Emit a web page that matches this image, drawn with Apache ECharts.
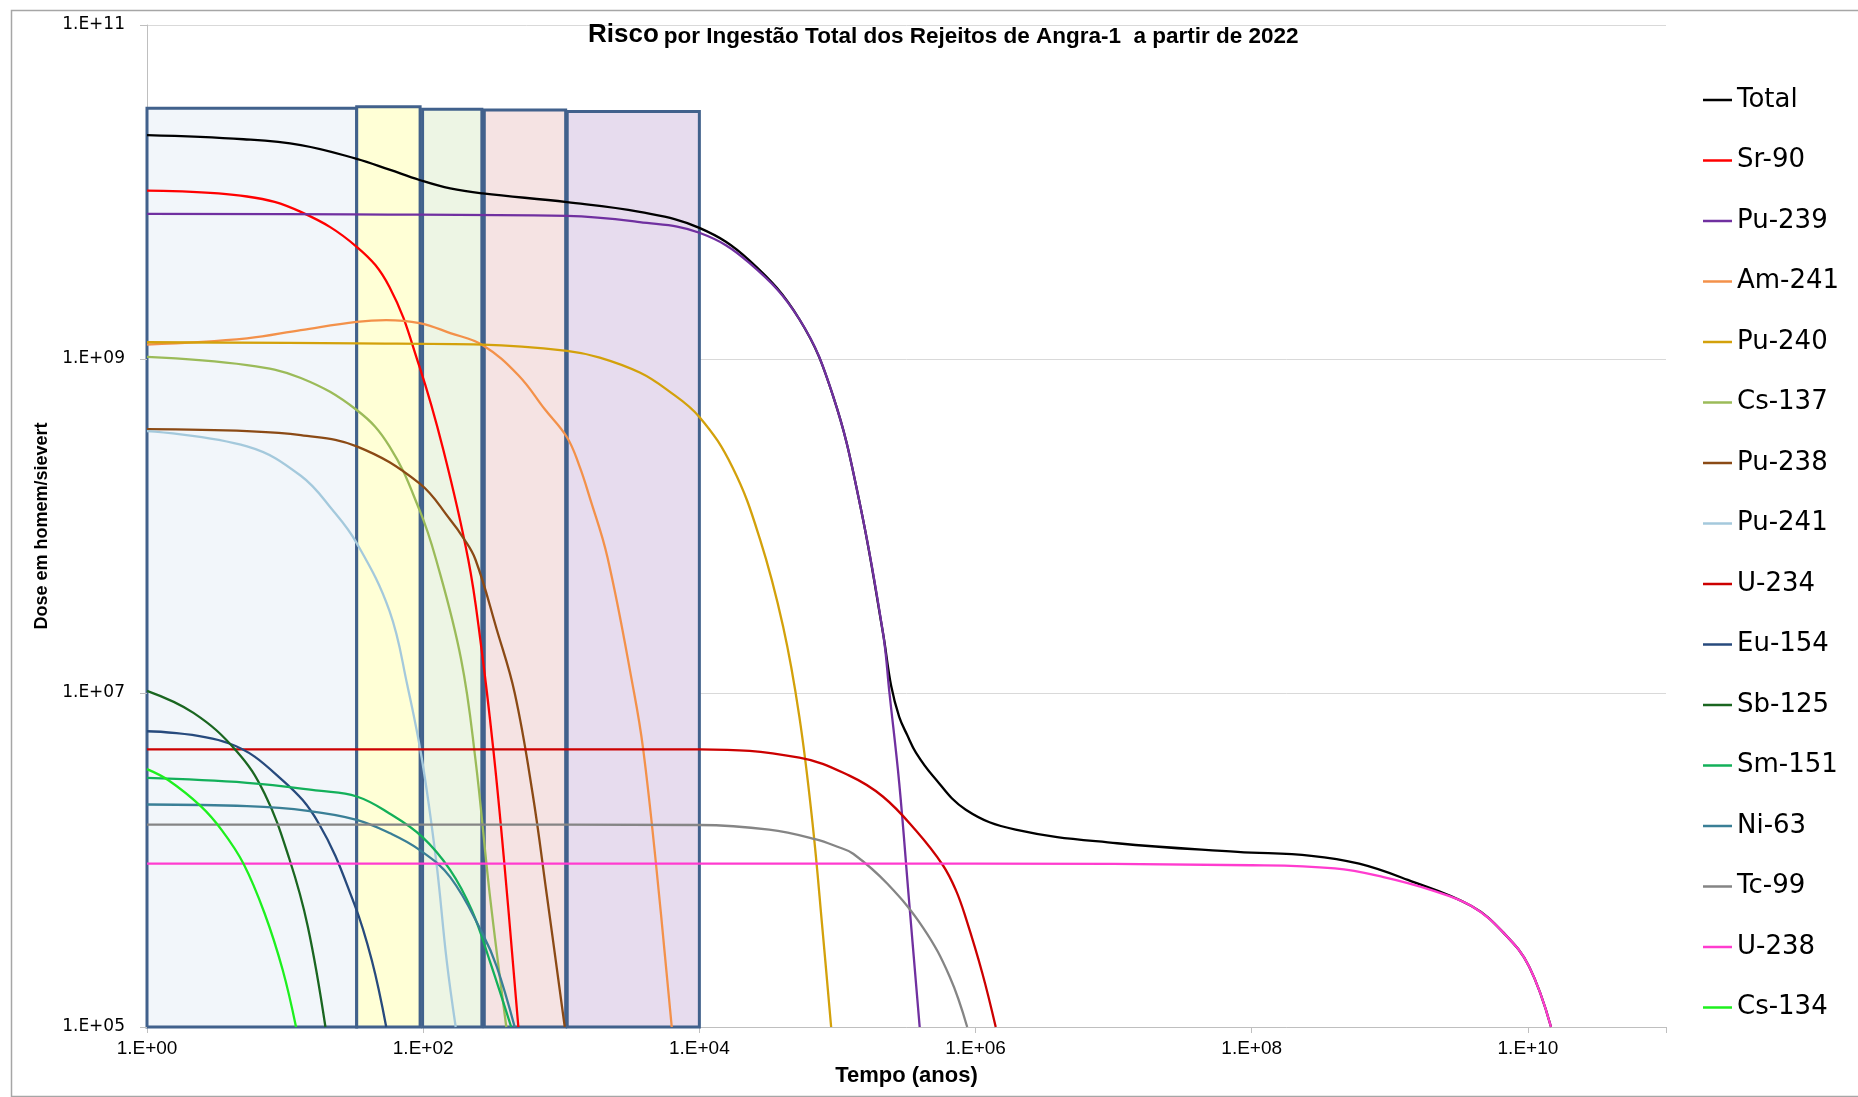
<!DOCTYPE html>
<html><head><meta charset="utf-8">
<script src="https://cdn.jsdelivr.net/npm/echarts@6/dist/echarts.min.js"></script>
<style>html,body{margin:0;padding:0;background:#fff}#c{width:1858px;height:1097px}</style>
</head><body><div id="c"></div><script>
// ---- data: [tempo (anos), dose (homem.Sv)] ----
const total = [[1,2.19e10],[5,2.07e10],[13,1.91e10],[33,1.58e10],[57,1.36e10],[94,1.18e10],[157,1.05e10],[270,9.8e9],[1100,8.7e9],[3700,7.6e9],[1e4,6.1e9],[2.3e4,3.9e9],[5.3e4,1.73e9],[9.3e4,6.0e8],[1.45e5,1.37e8],[2.14e5,2.27e7],[2.45e5,1.1e7],[2.8e5,7.2e6],[3.2e5,5.6e6],[3.7e5,4.4e6],[4.9e5,3.2e6],[8.5e5,2.0e6],[1.95e6,1.52e6],[1.06e7,1.26e6],[7.9e7,1.12e6],[2.7e8,1.06e6],[6e8,9.5e5],[1.35e9,7.6e5],[3.9e9,5.3e5],[6.8e9,3.6e5],[1.02e10,2.3e5],[1.47e10,1e5]];
const sr90 = [[1,1.02e10],[5.3,9.4e9],[13,7.6e9],[33,4.7e9],[57,2.7e9],[94,9e8],[140,2.85e8],[212,6.3e7],[261,2.0e7],[322,4.6e6],[385,1e6],[489,1e5]];
const pu239 = [[1,7.4e9],[30,7.35e9],[1100,7.2e9],[3700,6.6e9],[1e4,5.7e9],[2.3e4,3.76e9],[5.3e4,1.73e9],[9.3e4,6.0e8],[1.45e5,1.37e8],[2.14e5,2.27e7],[2.38e5,1e7],[2.8e5,2.9e6],[3.3e5,5.7e5],[3.94e5,1e5]];
const am241 = [[1,1.22e9],[5.3,1.33e9],[13,1.49e9],[33,1.67e9],[54,1.71e9],[94,1.64e9],[157,1.43e9],[270,1.21e9],[489,8.0e8],[760,5.0e8],[1100,3.4e8],[1350,2.3e8],[1600,1.5e8],[2160,6.5e7],[3370,1e7],[3920,4.6e6],[4820,1e6],[6310,1e5]];
const pu240 = [[1,1.26e9],[33,1.24e9],[270,1.22e9],[1100,1.12e9],[1900,1.02e9],[3700,8.3e8],[5750,6.6e8],[1e4,4.5e8],[1.74e4,2.24e8],[2.74e4,8.4e7],[4.04e4,2.5e7],[5.3e4,7.2e6],[6.6e4,1.66e6],[7.8e4,3.8e5],[9.0e4,1e5]];
const cs137 = [[1,1.03e9],[5.3,9.2e8],[13,7.7e8],[33,4.95e8],[57,3.0e8],[94,1.25e8],[124,6.3e7],[188,1.6e7],[239,4e6],[303,6.3e5],[400,1e5]];
const pu238 = [[1,3.8e8],[5.3,3.7e8],[13,3.5e8],[33,3.0e8],[94,1.8e8],[157,1.09e8],[195,8.5e7],[239,6.3e7],[341,2.4e7],[460,1e7],[620,2.5e6],[783,6.3e5],[1060,1e5]];
const pu241 = [[1,3.7e8],[5.3,3.0e8],[13,2.0e8],[22,1.25e8],[33,7.9e7],[57,3.1e7],[77,1.1e7],[98,4e6],[124,1e6],[148,2.5e5],[172,1e5]];
const u234 = [[1,4.6e6],[100,4.6e6],[1e4,4.6e6],[5.3e4,4.1e6],[1.22e5,3.2e6],[2.13e5,2.4e6],[3.7e5,1.5e6],[5.8e5,9.3e5],[7.2e5,6.6e5],[8.5e5,4.5e5],[1.12e6,2.1e5],[1.4e6,1e5]];
const eu154 = [[1,5.9e6],[3.9,5.0e6],[9.6,3.0e6],[17.5,1.66e6],[31.6,5.5e5],[42.5,2.5e5],[54,1e5]];
const sb125 = [[1,1.03e7],[2.17,7.6e6],[4.44,4.5e6],[7.1,2.5e6],[10.8,1e6],[14.6,4e5],[19.6,1e5]];
const sm151 = [[1,3.1e6],[5.3,2.9e6],[17.5,2.6e6],[33,2.4e6],[57,1.9e6],[98,1.38e6],[157,8.7e5],[225,5e5],[303,2.5e5],[434,1e5]];
const ni63 = [[1,2.15e6],[5.3,2.1e6],[14.6,1.97e6],[33,1.74e6],[57,1.45e6],[94,1.15e6],[157,7.9e5],[270,3.6e5],[341,2.3e5],[460,1e5]];
const tc99 = [[1,1.63e6],[100,1.63e6],[1e4,1.62e6],[3.2e4,1.52e6],[7e4,1.33e6],[1e5,1.2e6],[1.3e5,1.09e6],[2.3e5,7.2e5],[4.2e5,3.9e5],[6.5e5,2.0e5],[8.7e5,1e5]];
const u238 = [[1,9.5e5],[1e3,9.5e5],[1e6,9.5e5],[1e8,9.3e5],[4.0e8,8.9e5],[9.0e8,7.9e5],[2.0e9,6.6e5],[3.9e9,5.3e5],[6.8e9,3.6e5],[1.02e10,2.3e5],[1.47e10,1e5]];
const cs134 = [[1,3.5e6],[1.43,3.0e6],[2.45,2.1e6],[3.5,1.5e6],[5.0,9.5e5],[7.1,4.8e5],[9.6,2.2e5],[12,1e5]];

const seriesNames = ['Total','Sr-90','Pu-239','Am-241','Pu-240','Cs-137','Pu-238','Pu-241','U-234','Eu-154','Sb-125','Sm-151','Ni-63','Tc-99','U-238','Cs-134'];
const seriesData = [total,sr90,pu239,am241,pu240,cs137,pu238,pu241,u234,eu154,sb125,sm151,ni63,tc99,u238,cs134];
const seriesColors = ['#000000','#ff0000','#7030a0','#f3914a','#d3a10b','#9bbb59','#8b4a15','#a4c9dc','#cc0000','#274a7d','#1a6620','#13b05a','#3a7f96','#858585','#ff3ccf','#1ef01e'];

// shaded period boxes: start, end (anos), top (dose)
const boxStart = [1, 33, 99, 277, 1104];
const boxEnd = [33, 95, 266, 1076, 1e4];
const boxTop = [3.17e10, 3.24e10, 3.13e10, 3.1e10, 3.03e10];
const boxFill = ['#f2f6fa', '#ffffd6', '#edf5e4', '#f5e3e3', '#e7dcee'];

const yTickVals = [1e5, 1e7, 1e9, 1e11];

function expLabel(v) {
  const e = Math.round(Math.log10(v));
  if (e % 2 !== 0) return '';
  return '1.E+' + (e < 10 ? '0' : '') + e;
}
function expLabelOdd(v) {
  const e = Math.round(Math.log10(v));
  if (e % 2 === 0) return '';
  return '1.E+' + (e < 10 ? '0' : '') + e;
}

const series = seriesNames.map((n, i) => ({
  name: n, type: 'line', data: seriesData[i], symbol: 'none', showSymbol: false,
  smooth: 0.4, z: 3,
  lineStyle: { color: seriesColors[i], width: 2.3 }, itemStyle: { color: seriesColors[i] }
}));

series.push({
  name: '_boxes', type: 'line', data: [], z: 1,
  markArea: {
    silent: true, z: 1,
    data: boxStart.map((s, i) => [
      { xAxis: s, yAxis: boxTop[i], itemStyle: { color: boxFill[i], borderColor: '#41618c', borderWidth: 3 } },
      { xAxis: boxEnd[i], yAxis: 1e5 }
    ])
  },
  markLine: {
    silent: true, symbol: ['none', 'none'], label: { show: false },
    lineStyle: { color: '#bfbfbf', width: 1, type: 'solid' },
    data: yTickVals.map(v => [{ xAxis: 1, yAxis: v, x: 140 }, { xAxis: 1, yAxis: v, x: 147 }])
  }
});

const chart = echarts.init(document.getElementById('c'), null, { renderer: 'canvas' });
chart.setOption({
  animation: false,
  backgroundColor: '#ffffff',
  title: {
    text: '{a|Risco} {b|por Ingestão Total dos Rejeitos de Angra-1  a partir de 2022}',
    left: 588, top: 22, padding: 0,
    textStyle: {
      rich: {
        a: { fontFamily: 'Liberation Sans', fontWeight: 'bold', fontSize: 26, color: '#000', lineHeight: 26, verticalAlign: 'bottom' },
        b: { fontFamily: 'Liberation Sans', fontWeight: 'bold', fontSize: 22.5, color: '#000', lineHeight: 22.5, verticalAlign: 'bottom' }
      }
    }
  },
  legend: {
    data: seriesNames, orient: 'vertical', left: 1703, top: 87,
    icon: 'rect', itemWidth: 29, itemHeight: 2.5, itemGap: 34.5, padding: 0,
    textStyle: { fontFamily: 'DejaVu Sans', fontSize: 26, color: '#000', lineHeight: 26 }
  },
  graphic: [{
    type: 'rect', left: 9, top: 8, silent: true,
    shape: { x: 0, y: 0, width: 1870, height: 1086 },
    style: { fill: 'none', stroke: '#a6a6a6', lineWidth: 1.5 }
  }],
  grid: { left: 147, right: 192, top: 25, bottom: 70, containLabel: false },
  xAxis: {
    type: 'log', logBase: 100, min: 1, max: 1e11,
    name: 'Tempo (anos)', nameLocation: 'middle', nameGap: 38,
    nameTextStyle: { fontFamily: 'Liberation Sans', fontWeight: 'bold', fontSize: 22, color: '#000' },
    axisLine: { show: true, lineStyle: { color: '#bfbfbf', width: 1 } },
    axisTick: { show: true, length: 6, lineStyle: { color: '#bfbfbf' } },
    axisLabel: { formatter: expLabel, margin: 12, fontFamily: 'Liberation Sans', fontSize: 19, color: '#000' },
    splitLine: { show: false }
  },
  yAxis: {
    type: 'log', logBase: 10, min: 1e5, max: 1e11,
    name: 'Dose em homem/sievert', nameLocation: 'middle', nameGap: 92, nameRotate: 90,
    nameTextStyle: { fontFamily: 'Liberation Sans', fontWeight: 'bold', fontSize: 18, color: '#000' },
    axisLine: { show: true, lineStyle: { color: '#bfbfbf', width: 1 } },
    axisTick: { show: false },
    axisLabel: { formatter: expLabelOdd, margin: 22, fontFamily: 'DejaVu Sans', fontSize: 17, color: '#000' },
    splitLine: { show: true, lineStyle: { color: ['#d9d9d9', 'rgba(0,0,0,0)'], width: 1 } }
  },
  series: series
});
</script></body></html>
